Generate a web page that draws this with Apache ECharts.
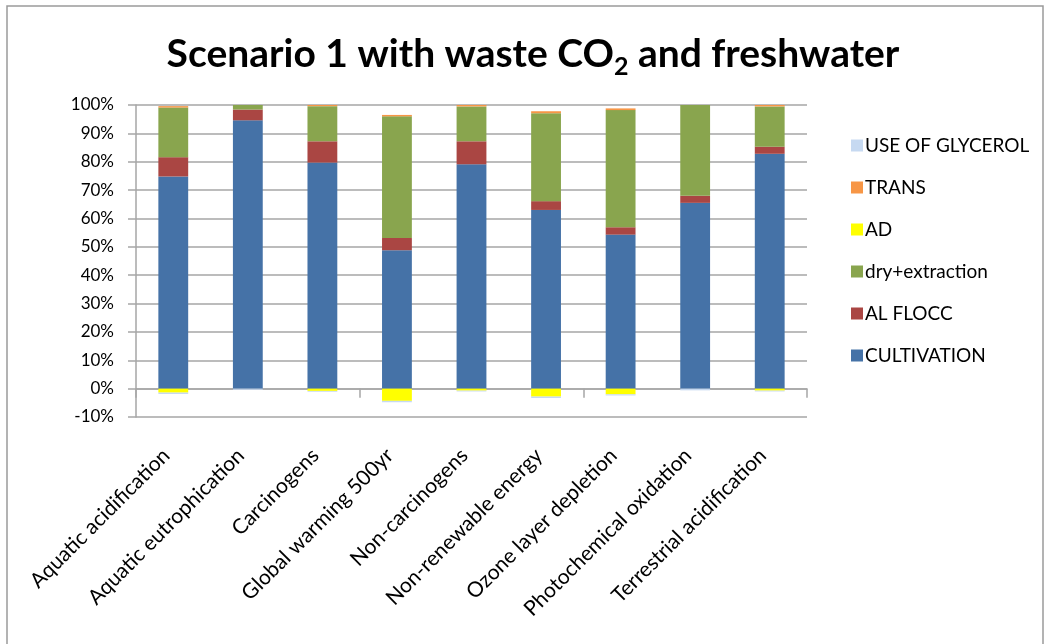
<!DOCTYPE html>
<html>
<head>
<meta charset="utf-8">
<script src="https://cdn.jsdelivr.net/npm/echarts@6/dist/echarts.min.js"></script>
<style>
  html, body { margin: 0; padding: 0; background: #fff; }
  #chart { width: 1050px; height: 644px; }
</style>
</head>
<body>
<div id="chart"></div>
<script>
// Impact categories on the horizontal axis
const categories = [
  'Aquatic acidification', 'Aquatic eutrophication', 'Carcinogens',
  'Global warming 500yr', 'Non-carcinogens', 'Non-renewable energy',
  'Ozone layer depletion', 'Photochemical oxidation', 'Terrestrial acidification'
];

// Contribution of each process step (% of total impact)
const cultivation   = [74.8, 94.6, 79.7, 48.8, 79.1, 63.0, 54.3, 65.5, 82.8];
const alFlocc       = [6.8, 3.8, 7.5, 4.3, 8.1, 3.1, 2.6, 2.5, 2.5];
const dryExtraction = [17.5, 1.6, 12.4, 42.9, 12.3, 31.0, 41.3, 32.0, 14.2];
const ad            = [-1.4, 0, -0.8, -4.3, -0.7, -2.8, -2.0, 0, -0.7];
const trans         = [0.5, 0, 0.4, 0.5, 0.5, 0.7, 0.6, 0, 0.5];
const useOfGlycerol = [-0.5, -0.4, -0.3, -0.5, -0.3, -0.5, -0.4, -0.6, -0.3];

// Value-axis ticks
const yTicks = { min: -10, max: 100, step: 10 };

const seriesDefs = [
  { name: 'CULTIVATION', data: cultivation, color: '#4572A7' },
  { name: 'AL FLOCC', data: alFlocc, color: '#AA4643' },
  { name: 'dry+extraction', data: dryExtraction, color: '#89A54E' },
  { name: 'AD', data: ad, color: '#FFFF00' },
  { name: 'TRANS', data: trans, color: '#F79646' },
  { name: 'USE OF GLYCEROL', data: useOfGlycerol, color: '#C6D9F1' }
];

const FONT = 'Lato, "Liberation Sans", sans-serif';
const gridColor = '#A6A6A6';

const chart = echarts.init(document.getElementById('chart'), null, { renderer: 'canvas' });

chart.setOption({
  backgroundColor: '#ffffff',
  animation: false,
  graphic: [{
    type: 'rect',
    shape: { x: 7, y: 6, width: 1036, height: 660 },
    style: { fill: 'none', stroke: '#9a9a9a', lineWidth: 1.5 },
    silent: true,
    z: -1
  }],
  title: {
    text: '{a|Scenario 1 with waste CO}{s|2}{a| and freshwater}',
    left: 528,
    top: 24,
    textAlign: 'center',
    textStyle: {
      rich: {
        a: { fontFamily: FONT, fontWeight: 'bold', fontSize: 39, color: '#000', lineHeight: 50, verticalAlign: 'middle' },
        s: { fontFamily: FONT, fontWeight: 'bold', fontSize: 25, color: '#000', lineHeight: 25, verticalAlign: 'bottom', padding: [0, 0, 0, 0] }
      }
    }
  },
  legend: {
    orient: 'vertical',
    left: 846,
    top: 131,
    itemWidth: 12,
    itemHeight: 12,
    itemGap: 23,
    icon: 'rect',
    data: ['USE OF GLYCEROL', 'TRANS', 'AD', 'dry+extraction', 'AL FLOCC', 'CULTIVATION'],
    textStyle: { fontFamily: FONT, fontSize: 19, color: '#000', padding: [0, 0, 0, -3] }
  },
  grid: { left: 136, right: 243, top: 105, bottom: 227, containLabel: false },
  xAxis: [
    {
      type: 'category',
      data: categories,
      position: 'bottom',
      axisLine: { onZero: true, lineStyle: { color: gridColor, width: 1.5 } },
      axisTick: { show: true, length: 9, lineStyle: { color: gridColor, width: 1.5 } },
      axisLabel: { show: false },
      splitLine: { show: false }
    },
    {
      type: 'category',
      data: categories,
      position: 'bottom',
      axisLine: { show: false, onZero: false },
      axisTick: { show: false },
      axisLabel: {
        rotate: 45,
        interval: 0,
        margin: 28,
        padding: [0, 10, 0, 0],
        fontFamily: FONT,
        fontSize: 21,
        color: '#000'
      },
      splitLine: { show: false }
    }
  ],
  yAxis: {
    type: 'value',
    min: yTicks.min,
    max: yTicks.max,
    interval: yTicks.step,
    axisLine: { show: true, lineStyle: { color: gridColor, width: 1.5 } },
    axisTick: { show: true, length: 8, lineStyle: { color: gridColor, width: 1.5 } },
    axisLabel: { formatter: '{value}%', margin: 22, fontFamily: FONT, fontSize: 17, color: '#000' },
    splitLine: { show: true, lineStyle: { color: gridColor, width: 1.5 } }
  },
  series: seriesDefs.map(s => ({
    name: s.name,
    type: 'bar',
    stack: 'total',
    xAxisIndex: 0,
    barWidth: '40%',
    data: s.data,
    itemStyle: { color: s.color },
    emphasis: { disabled: true }
  }))
});
</script>
</body>
</html>
